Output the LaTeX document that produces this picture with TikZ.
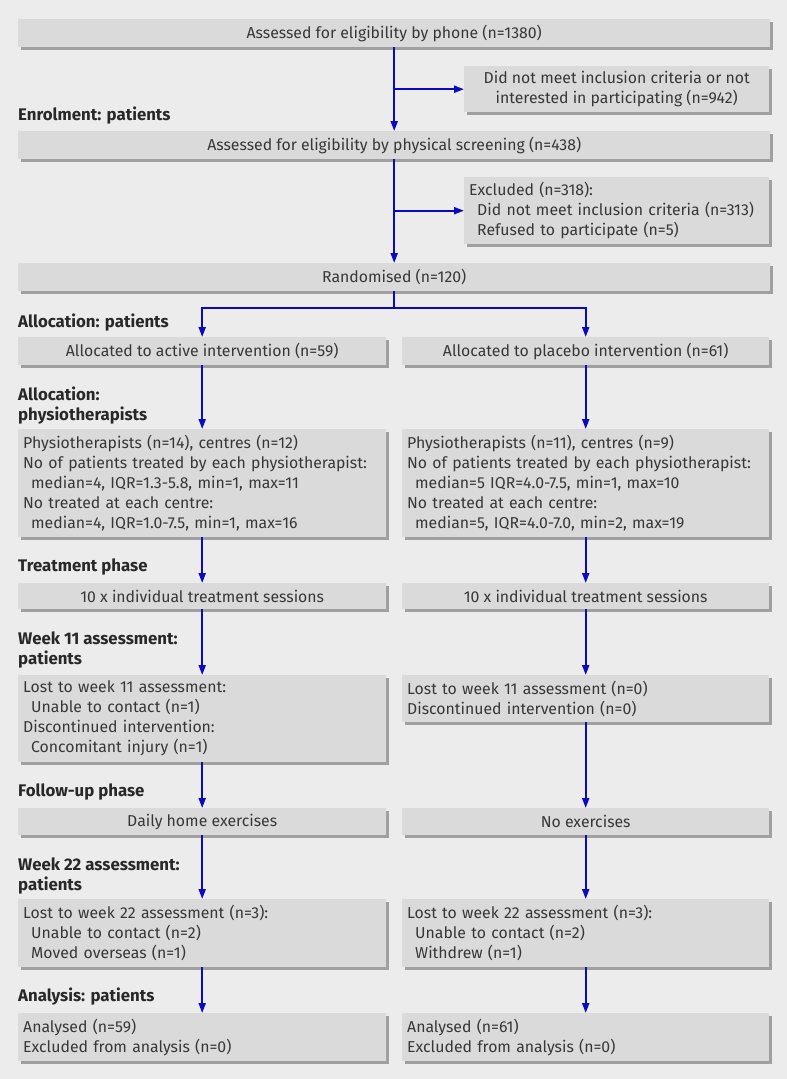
\documentclass[tikz,border=0pt]{standalone}
\usepackage{fontspec}
\setmainfont{Fira Sans}
\usetikzlibrary{arrows.meta,shadows}
\definecolor{bg}{RGB}{236,236,236}
\definecolor{boxfill}{RGB}{218,218,218}
\definecolor{shadowc}{RGB}{160,160,160}
\definecolor{arrowc}{RGB}{10,10,190}
\definecolor{txt}{RGB}{55,55,55}
\definecolor{labc}{RGB}{40,40,40}
\begin{document}
\begin{tikzpicture}[x=1pt,y=-1pt,
  box/.style={fill=boxfill, draw=none, text=txt, font=\fontsize{15.8}{20}\selectfont,
    inner ysep=0pt, inner xsep=5pt, anchor=north west, align=center,
    general shadow={fill=shadowc, shadow xshift=3pt, shadow yshift=-3pt}},
  lbox/.style={box, align=left},
  lab/.style={anchor=west, inner sep=0pt, text=labc, align=left,
    font=\fontsize{16.8}{20}\selectfont\bfseries},
  arr/.style={draw=arrowc, line width=2pt, -{Triangle[length=10pt,width=7pt]}},
  ln/.style={draw=arrowc, line width=2pt}]
\useasboundingbox (0,0) rectangle (787,1079);
\fill[bg] (0,0) rectangle (787,1079);
\newcommand{\ind}{\hspace*{8pt}}
% top column
\node[box, minimum width=752pt, minimum height=28pt] (b1) at (18,19) {Assessed for eligibility by phone (n=1380)};
\node[box, minimum width=305pt, minimum height=46pt] (x1) at (464,66) {Did not meet inclusion criteria or not\\interested in participating (n=942)};
\node[box, minimum width=752pt, minimum height=28pt] (b2) at (18,131) {Assessed for eligibility by physical screening (n=438)};
\node[lbox, text width=295pt, minimum height=67pt] (x2) at (464,177) {Excluded (n=318):\\\ind \mbox{Did not meet inclusion criteria (n=313)}\\\ind Refused to participate (n=5)};
\node[box, minimum width=752pt, minimum height=28pt] (b3) at (18,263) {Randomised (n=120)};
% left column
\node[box, minimum width=368pt, minimum height=28pt] (a1) at (18,337) {Allocated to active intervention (n=59)};
\node[lbox, text width=358pt, minimum height=108pt] (a2) at (18,429) {Physiotherapists (n=14), centres (n=12)\\\mbox{No of patients treated by each physiotherapist:}\\\ind median=4, IQR=1.3-5.8, min=1, max=11\\No treated at each centre:\\\ind median=4, IQR=1.0-7.5, min=1, max=16};
\node[box, minimum width=368pt, minimum height=26pt] (a3) at (18,583) {10 x individual treatment sessions};
\node[lbox, text width=358pt, minimum height=87pt] (a4) at (18,675) {Lost to week 11 assessment:\\\ind Unable to contact (n=1)\\Discontinued intervention:\\\ind Concomitant injury (n=1)};
\node[box, minimum width=368pt, minimum height=27pt] (a5) at (18,808) {Daily home exercises};
\node[lbox, text width=358pt, minimum height=68pt] (a6) at (18,899) {Lost to week 22 assessment (n=3):\\\ind Unable to contact (n=2)\\\ind Moved overseas (n=1)};
\node[lbox, text width=358pt, minimum height=48pt] (a7) at (18,1013) {Analysed (n=59)\\Excluded from analysis (n=0)};
% right column
\node[box, minimum width=367pt, minimum height=28pt] (p1) at (402,337) {Allocated to placebo intervention (n=61)};
\node[lbox, text width=357pt, minimum height=108pt] (p2) at (402,429) {Physiotherapists (n=11), centres (n=9)\\\mbox{No of patients treated by each physiotherapist:}\\\ind median=5 IQR=4.0-7.5, min=1, max=10\\No treated at each centre:\\\ind median=5, IQR=4.0-7.0, min=2, max=19};
\node[box, minimum width=367pt, minimum height=26pt] (p3) at (402,583) {10 x individual treatment sessions};
\node[lbox, text width=357pt, minimum height=47pt] (p4) at (402,675) {Lost to week 11 assessment (n=0)\\Discontinued intervention (n=0)};
\node[box, minimum width=367pt, minimum height=27pt] (p5) at (402,808) {No exercises};
\node[lbox, text width=357pt, minimum height=68pt] (p6) at (402,899) {Lost to week 22 assessment (n=3):\\\ind Unable to contact (n=2)\\\ind Withdrew (n=1)};
\node[lbox, text width=357pt, minimum height=48pt] (p7) at (402,1013) {Analysed (n=61)\\Excluded from analysis (n=0)};
% labels
\node[lab] (l1) at (18,116) {Enrolment: patients};
\node[lab] (l2) at (18,323) {Allocation: patients};
\node[lab] (l3) at (18,406) {Allocation:\\physiotherapists};
\node[lab] (l4) at (18,567) {Treatment phase};
\node[lab] (l5) at (18,650) {Week 11 assessment:\\patients};
\node[lab] (l6) at (18,792) {Follow-up phase};
\node[lab] (l7) at (18,876) {Week 22 assessment:\\patients};
\node[lab] (l8) at (18,997) {Analysis: patients};
% connectors
\draw[arr] (b1.south) -- (b2.north);
\draw[arr] (b1.south |- x1.west) -- (x1.west);
\draw[arr] (b2.south) -- (b3.north);
\draw[arr] (b2.south |- x2.west) -- (x2.west);
\path (b3.south) ++(0,17) coordinate (split);
\draw[ln] (b3.south) -- (split);
\draw[arr] (split) -| (a1.north);
\draw[arr] (split) -| (p1.north);
\draw[arr] (a1.south) -- (a2.north);
\draw[arr] (a2.south) -- (a3.north);
\draw[arr] (a3.south) -- (a4.north);
\draw[arr] (a4.south) -- (a5.north);
\draw[arr] (a5.south) -- (a6.north);
\draw[arr] (a6.south) -- (a7.north);
\draw[arr] (p1.south) -- (p2.north);
\draw[arr] (p2.south) -- (p3.north);
\draw[arr] (p3.south) -- (p4.north);
\draw[arr] (p4.south) -- (p5.north);
\draw[arr] (p5.south) -- (p6.north);
\draw[arr] (p6.south) -- (p7.north);
\end{tikzpicture}
\end{document}
